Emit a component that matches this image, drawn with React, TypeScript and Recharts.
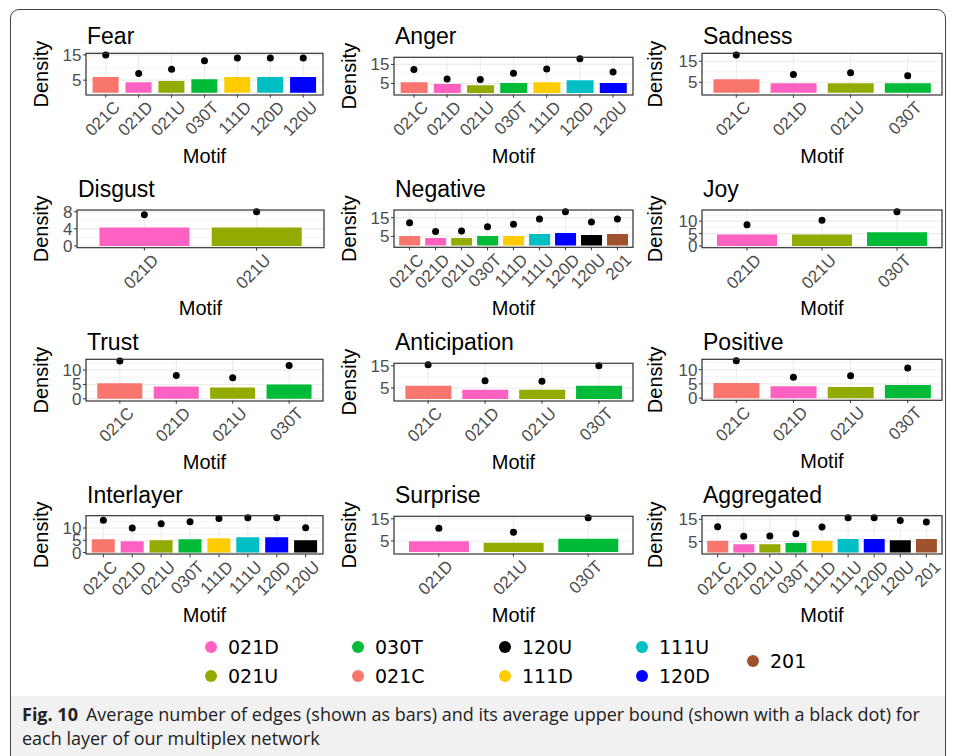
import { Bar, CartesianGrid, Cell, ComposedChart, Line, XAxis, YAxis } from "recharts"

// motif colours (legend + bars)
const MOTIF_COLORS: Record<string, string> = {
  "021C": "#F8766D",
  "021D": "#FF61C3",
  "021U": "#93AA00",
  "030T": "#00BA38",
  "111D": "#FFCC00",
  "111U": "#00BFC4",
  "120D": "#0000FF",
  "120U": "#000000",
  "201": "#A0522D",
}
// Fear and Anger were coloured with their own factor levels
const SEVEN_LEVEL_COLORS: Record<string, string> = { ...MOTIF_COLORS, "120D": "#00BFC4", "120U": "#0000FF" }

const fearMotifs = ["021C", "021D", "021U", "030T", "111D", "120D", "120U"]
const fearBars = [6.3, 4.2, 4.7, 5.4, 6.3, 6.3, 6.3]
const fearBounds = [15.0, 7.6, 9.3, 12.7, 13.8, 13.8, 13.8]
const fearTicks = [5, 15]

const angerMotifs = ["021C", "021D", "021U", "030T", "111D", "120D", "120U"]
const angerBars = [5.7, 4.7, 4.1, 5.2, 5.7, 6.7, 5.2]
const angerBounds = [12.3, 7.3, 7.1, 10.4, 12.6, 18.0, 11.0]
const angerTicks = [5, 15]

const sadnessMotifs = ["021C", "021D", "021U", "030T"]
const sadnessBars = [6.4, 4.5, 4.5, 4.5]
const sadnessBounds = [18.0, 8.7, 9.5, 8.1]
const sadnessTicks = [5, 15]

const disgustMotifs = ["021D", "021U"]
const disgustBars = [4.3, 4.3]
const disgustBounds = [7.3, 8.0]
const disgustTicks = [0, 4, 8]

const negativeMotifs = ["021C", "021D", "021U", "030T", "111D", "111U", "120D", "120U", "201"]
const negativeBars = [5.2, 4.1, 4.1, 5.2, 5.2, 6.2, 6.7, 5.7, 6.2]
const negativeBounds = [12.2, 7.6, 7.8, 10.1, 11.5, 14.3, 18.2, 12.7, 14.3]
const negativeTicks = [5, 15]

const joyMotifs = ["021D", "021U", "030T"]
const joyBars = [4.6, 4.6, 5.5]
const joyBounds = [8.5, 10.4, 13.8]
const joyTicks = [0, 5, 10]

const trustMotifs = ["021C", "021D", "021U", "030T"]
const trustBars = [5.4, 4.3, 3.9, 5.0]
const trustBounds = [13.2, 8.1, 7.3, 11.6]
const trustTicks = [0, 5, 10]

const anticipationMotifs = ["021C", "021D", "021U", "030T"]
const anticipationBars = [6.0, 4.2, 4.2, 6.0]
const anticipationBounds = [15.5, 8.3, 8.0, 15.0]
const anticipationTicks = [5, 15]

const positiveMotifs = ["021C", "021D", "021U", "030T"]
const positiveBars = [5.3, 4.2, 3.9, 4.6]
const positiveBounds = [13.1, 7.3, 7.9, 10.6]
const positiveTicks = [0, 5, 10]

const interlayerMotifs = ["021C", "021D", "021U", "030T", "111D", "111U", "120D", "120U"]
const interlayerBars = [5.4, 4.6, 5.0, 5.4, 5.8, 6.25, 6.25, 5.0]
const interlayerBounds = [13.2, 10.0, 11.8, 12.6, 13.9, 14.2, 14.2, 10.1]
const interlayerTicks = [0, 5, 10]

const surpriseMotifs = ["021D", "021U", "030T"]
const surpriseBars = [4.8, 4.2, 6.0]
const surpriseBounds = [10.7, 8.9, 15.5]
const surpriseTicks = [5, 15]

const aggregatedMotifs = ["021C", "021D", "021U", "030T", "111D", "111U", "120D", "120U", "201"]
const aggregatedBars = [5.3, 3.8, 3.8, 4.3, 5.3, 6.1, 6.1, 5.6, 6.1]
const aggregatedBounds = [11.6, 7.3, 7.5, 8.5, 11.5, 15.7, 15.7, 14.5, 13.8]
const aggregatedTicks = [5, 15]

const legendColumns = [["021D", "021U"], ["030T", "021C"], ["120U", "111D"], ["111U", "120D"], ["201"]]

const FONT = "Liberation Sans, Arial, Helvetica, sans-serif"

type PanelSpec = {
  title: string
  motifs: string[]
  bars: number[]
  bounds: number[]
  ticks: number[]
  colors: Record<string, string>
  // plot rectangle on the page
  left: number
  right: number
  top: number
  bottom: number
  titleY: number
  densityX: number
}

const panels: PanelSpec[] = [
  { title: "Fear", motifs: fearMotifs, bars: fearBars, bounds: fearBounds, ticks: fearTicks, colors: SEVEN_LEVEL_COLORS, left: 86, right: 323, top: 53.3, bottom: 95, titleY: 44.3, densityX: 47.7 },
  { title: "Anger", motifs: angerMotifs, bars: angerBars, bounds: angerBounds, ticks: angerTicks, colors: SEVEN_LEVEL_COLORS, left: 394, right: 633, top: 57.3, bottom: 95, titleY: 44.3, densityX: 356 },
  { title: "Sadness", motifs: sadnessMotifs, bars: sadnessBars, bounds: sadnessBounds, ticks: sadnessTicks, colors: MOTIF_COLORS, left: 702, right: 942, top: 53.3, bottom: 95, titleY: 44.3, densityX: 662.4 },
  { title: "Disgust", motifs: disgustMotifs, bars: disgustBars, bounds: disgustBounds, ticks: disgustTicks, colors: MOTIF_COLORS, left: 77, right: 324, top: 210, bottom: 247.7, titleY: 196.7, densityX: 47.7 },
  { title: "Negative", motifs: negativeMotifs, bars: negativeBars, bounds: negativeBounds, ticks: negativeTicks, colors: MOTIF_COLORS, left: 394, right: 633, top: 210, bottom: 247.3, titleY: 196.7, densityX: 356 },
  { title: "Joy", motifs: joyMotifs, bars: joyBars, bounds: joyBounds, ticks: joyTicks, colors: MOTIF_COLORS, left: 702, right: 942, top: 210, bottom: 247.7, titleY: 196.7, densityX: 662.4 },
  { title: "Trust", motifs: trustMotifs, bars: trustBars, bounds: trustBounds, ticks: trustTicks, colors: MOTIF_COLORS, left: 86, right: 323, top: 359.3, bottom: 401, titleY: 350, densityX: 47.7 },
  { title: "Anticipation", motifs: anticipationMotifs, bars: anticipationBars, bounds: anticipationBounds, ticks: anticipationTicks, colors: MOTIF_COLORS, left: 394, right: 633, top: 363.3, bottom: 401, titleY: 350, densityX: 356 },
  { title: "Positive", motifs: positiveMotifs, bars: positiveBars, bounds: positiveBounds, ticks: positiveTicks, colors: MOTIF_COLORS, left: 702, right: 942, top: 359.3, bottom: 400.3, titleY: 350, densityX: 662.4 },
  { title: "Interlayer", motifs: interlayerMotifs, bars: interlayerBars, bounds: interlayerBounds, ticks: interlayerTicks, colors: MOTIF_COLORS, left: 86, right: 323, top: 515.7, bottom: 554, titleY: 503, densityX: 47.7 },
  { title: "Surprise", motifs: surpriseMotifs, bars: surpriseBars, bounds: surpriseBounds, ticks: surpriseTicks, colors: MOTIF_COLORS, left: 394, right: 633, top: 516.3, bottom: 554, titleY: 503, densityX: 356 },
  { title: "Aggregated", motifs: aggregatedMotifs, bars: aggregatedBars, bounds: aggregatedBounds, ticks: aggregatedTicks, colors: MOTIF_COLORS, left: 702, right: 942, top: 515.7, bottom: 554, titleY: 503, densityX: 662.4 },
]

const AX_W = 40
const M_TOP = 8
const M_RIGHT = 8
const AX_H = 60

function MotifTick(props: any) {
  const { x, y, payload } = props
  const ax = x + 6.5
  return (
    <text
      x={ax}
      y={y}
      transform={`rotate(-45, ${ax}, ${y})`}
      textAnchor="end"
      dy="0.72em"
      fill="#4D4D4D"
      fontSize={17}
      fontFamily={FONT}
    >
      {payload.value}
    </text>
  )
}

function Panel({ spec }: { spec: PanelSpec }) {
  const { motifs, bars, bounds, ticks, colors, left, right, top, bottom } = spec
  const rows = motifs.map((m, i) => ({ motif: m, bar: bars[i], bound: bounds[i] }))
  const plotW = right - left
  const plotH = bottom - top
  // ggplot-like 5% expansion, discrete axis padded by 0.6 units
  const max = Math.max(...bounds)
  const domain = [-0.05 * max, 1.05 * max]
  const pad = (0.1 * plotW) / (motifs.length + 0.2)
  const step = ticks[1] - ticks[0]
  const minor: number[] = []
  for (let v = ticks[0] - step / 2; v <= domain[1]; v += step) if (v >= domain[0]) minor.push(v)

  return (
    <div style={{ position: "absolute", left: left - AX_W, top: top - M_TOP }}>
      <ComposedChart
        width={plotW + AX_W + M_RIGHT}
        height={plotH + M_TOP + AX_H}
        data={rows}
        margin={{ top: M_TOP, right: M_RIGHT, bottom: 0, left: 0 }}
        barCategoryGap="10%"
        style={{ overflow: "visible" }}
      >
        <CartesianGrid stroke="#EBEBEB" strokeWidth={0.6} horizontalValues={minor} vertical={false} />
        <CartesianGrid stroke="#EBEBEB" strokeWidth={1.1} horizontalValues={ticks} />
        <XAxis
          dataKey="motif"
          type="category"
          height={AX_H}
          padding={{ left: pad, right: pad }}
          axisLine={false}
          tickLine={{ stroke: "#333333" }}
          tickSize={3}
          tickMargin={2}
          interval={0}
          tick={<MotifTick />}
        />
        <YAxis
          type="number"
          domain={domain}
          ticks={ticks}
          interval={0}
          allowDataOverflow
          width={AX_W}
          axisLine={false}
          tickLine={{ stroke: "#333333" }}
          tickSize={3}
          tickMargin={1.5}
          tick={{ fill: "#4D4D4D", fontSize: 17, fontFamily: FONT }}
        />
        <Bar dataKey="bar" isAnimationActive={false}>
          {rows.map((r) => (
            <Cell key={r.motif} fill={colors[r.motif]} />
          ))}
        </Bar>
        <Line
          dataKey="bound"
          stroke="none"
          dot={{ r: 3.5, fill: "#000", stroke: "none", clipDot: false } as any}
          activeDot={false}
          isAnimationActive={false}
        />
      </ComposedChart>
    </div>
  )
}

export default function App() {
  return (
    <div style={{ position: "absolute", left: 0, top: 0, width: 954, height: 756, background: "#fff", overflow: "hidden" }}>
      {/* figure frame + caption band */}
      <div
        style={{
          position: "absolute",
          left: 10,
          top: 9,
          width: 934,
          height: 780,
          border: "1px solid #444",
          borderRadius: 9,
          overflow: "hidden",
        }}
      >
        <div style={{ position: "absolute", left: 0, right: 0, top: 686, bottom: 0, background: "#F1F1F1" }} />
      </div>

      {panels.map((p) => (
        <Panel key={p.title} spec={p} />
      ))}

      <svg width={954} height={756} style={{ position: "absolute", left: 0, top: 0, pointerEvents: "none" }}>
        {panels.map((p) => {
          const cx = (p.left + p.right) / 2
          const cy = (p.top + p.bottom) / 2
          return (
            <g key={p.title}>
              <rect x={p.left} y={p.top} width={p.right - p.left} height={p.bottom - p.top} fill="none" stroke="#333333" strokeWidth={1.2} />
              <text x={p.left + 1} y={p.titleY} fontSize={23} fontFamily={FONT} fill="#000">
                {p.title}
              </text>
              <text
                x={p.densityX}
                y={cy}
                transform={`rotate(-90, ${p.densityX}, ${cy})`}
                textAnchor="middle"
                fontSize={20}
                fontFamily={FONT}
                fill="#000"
              >
                Density
              </text>
              <text x={cx} y={p.bottom + 67.5} textAnchor="middle" fontSize={20} fontFamily={FONT} fill="#000">
                Motif
              </text>
            </g>
          )
        })}
        {legendColumns.map((col, ci) => {
          const xs = [211, 358, 505, 642, 753]
          return col.map((m, ri) => {
            const y = col.length === 1 ? 661 : 647 + ri * 29
            return (
              <g key={m}>
                <circle cx={xs[ci]} cy={y} r={6} fill={MOTIF_COLORS[m]} />
                <text x={xs[ci] + 17} y={y} dominantBaseline="central" fontSize={19} fontFamily="'DejaVu Sans', sans-serif" fill="#000">
                  {m}
                </text>
              </g>
            )
          })
        })}
      </svg>

      <div
        style={{
          position: "absolute",
          left: 22,
          top: 702,
          width: 926,
          fontFamily: "'Open Sans', sans-serif",
          fontSize: 18,
          lineHeight: "24px",
          color: "#222",
        }}
      >
        <b style={{ marginRight: 8 }}>Fig. 10</b>
        <span>Average number of edges (shown as bars) and its average upper bound (shown with a black dot) for each layer of our multiplex network</span>
      </div>
    </div>
  )
}
